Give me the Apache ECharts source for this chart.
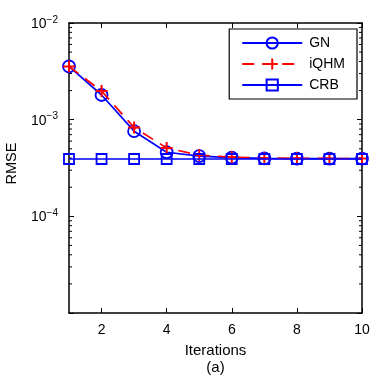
<!DOCTYPE html>
<html><head><meta charset="utf-8">
<script src="https://cdn.jsdelivr.net/npm/echarts@6/dist/echarts.min.js"></script>
<style>html,body{margin:0;padding:0;background:#fff}#c{width:371px;height:378px}</style>
</head><body><div id="c"></div>
<script>
const iterations = [1,2,3,4,5,6,7,8,9,10];
const gnValues   = [3.55e-3, 1.80e-3, 7.6e-4, 4.6e-4, 4.2e-4, 4.05e-4, 3.98e-4, 3.96e-4, 3.95e-4, 3.95e-4];
const iqhmValues = [3.55e-3, 1.98e-3, 8.3e-4, 5.1e-4, 4.3e-4, 4.1e-4, 4.0e-4, 3.98e-4, 3.97e-4, 3.96e-4];
const crbValues  = [3.92e-4, 3.92e-4, 3.92e-4, 3.92e-4, 3.92e-4, 3.92e-4, 3.92e-4, 3.92e-4, 3.92e-4, 3.92e-4];
const xTickLabels = [2,4,6,8,10];
const yTickExps = [-5,-4,-3,-2];
const minorTickValues = [];
for (const e of [-5,-4,-3]) for (let m = 2; m <= 9; m++) minorTickValues.push(m * Math.pow(10, e));

const FONT = 'Liberation Sans';
const toPairs = v => iterations.map((x,i)=>[x, v[i]]);
const chart = echarts.init(document.getElementById('c'), null, {renderer:'canvas'});
const plusPath = 'path://M0,-10L0,10M-10,0L10,0';

const yLabelFmt = v => {
  const e = Math.round(Math.log10(v));
  if (e === -5) return '';
  return '{b|10}{s|\u2212' + Math.abs(e) + '}';
};

chart.setOption({
  animation:false,
  textStyle:{fontFamily:FONT},
  grid:{left:69, top:23, right:9, bottom:65, containLabel:false, outerBoundsMode:'none'},
  legend:{
    orient:'vertical', right:14, top:29,
    backgroundColor:'#fff', borderColor:'#000', borderWidth:1.2,
    padding:[7,12,7,12], itemWidth:60, itemHeight:14, itemGap:7,
    textStyle:{fontSize:14, color:'#000', fontFamily:FONT, padding:[0,0,0,2]},
    data:['GN','iQHM','CRB']
  },
  xAxis:[{
    type:'value', min:1, max:10, position:'bottom',
    name:'Iterations\n(a)', nameLocation:'middle', nameGap:28,
    nameTextStyle:{fontSize:15, color:'#000', lineHeight:17, fontFamily:FONT},
    axisLine:{show:true, lineStyle:{color:'#000', width:1.5}},
    axisTick:{show:true, inside:true, length:5, customValues:xTickLabels, lineStyle:{color:'#000'}},
    axisLabel:{customValues:xTickLabels, fontSize:14, color:'#000', margin:10, fontFamily:FONT},
    splitLine:{show:false}
  },{
    type:'value', min:1, max:10, position:'top',
    axisLine:{show:true, lineStyle:{color:'#000', width:1.5}},
    axisTick:{show:true, inside:true, length:5, customValues:xTickLabels, lineStyle:{color:'#000'}},
    axisLabel:{show:false}, splitLine:{show:false}
  }],
  yAxis:[{
    type:'log', logBase:10, min:1e-5, max:1e-2, position:'left',
    name:'RMSE', nameLocation:'middle', nameGap:50, nameRotate:90,
    nameTextStyle:{fontSize:14.5, color:'#000', fontFamily:FONT, padding:[0,0,0,9]},
    axisLine:{show:true, lineStyle:{color:'#000', width:1.5}},
    axisTick:{show:true, inside:true, length:5, lineStyle:{color:'#000'}},
    axisLabel:{formatter:yLabelFmt, margin:11, color:'#000',
      rich:{b:{fontSize:14, fontFamily:FONT, color:'#000', lineHeight:16, verticalAlign:'bottom', padding:[6,0,0,0]},
            s:{fontSize:10, fontFamily:FONT, color:'#000', lineHeight:10, verticalAlign:'top'}}},
    splitLine:{show:false}
  },{
    type:'log', logBase:10, min:1e-5, max:1e-2, position:'right',
    axisLine:{show:true, lineStyle:{color:'#000', width:1.5}},
    axisTick:{show:true, inside:true, length:5, lineStyle:{color:'#000'}},
    axisLabel:{show:false}, splitLine:{show:false}
  }],
  series:[
    {type:'custom', name:'minorTicks', silent:true, z:1,
     data:minorTickValues.map(v=>[1, v]),
     renderItem:(params, api)=>{
       const l = api.coord([1, api.value(1)]);
       const r = api.coord([10, api.value(1)]);
       const st = {stroke:'#000', lineWidth:1};
       return {type:'group', children:[
         {type:'line', shape:{x1:l[0], y1:l[1], x2:l[0]+3, y2:l[1]}, style:st},
         {type:'line', shape:{x1:r[0], y1:r[1], x2:r[0]-3, y2:r[1]}, style:st}
       ]};
     }},
    {type:'line', name:'GN', data:toPairs(gnValues), symbol:'circle', symbolSize:12,
     itemStyle:{color:'rgba(0,0,0,0)', borderColor:'#0000ff', borderWidth:1.8},
     lineStyle:{color:'#0000ff', width:1.7}, z:3},
    {type:'line', name:'iQHM', data:toPairs(iqhmValues), symbol:plusPath, symbolSize:12,
     itemStyle:{color:'#ff0000', borderColor:'#ff0000', borderWidth:2},
     lineStyle:{color:'#ff0000', width:1.7, type:[12,8]}, z:4},
    {type:'line', name:'CRB', data:toPairs(crbValues), symbol:'rect', symbolSize:10,
     itemStyle:{color:'rgba(0,0,0,0)', borderColor:'#0000ff', borderWidth:1.8},
     lineStyle:{color:'#0000ff', width:1.7}, z:5}
  ]
});
</script></body></html>
